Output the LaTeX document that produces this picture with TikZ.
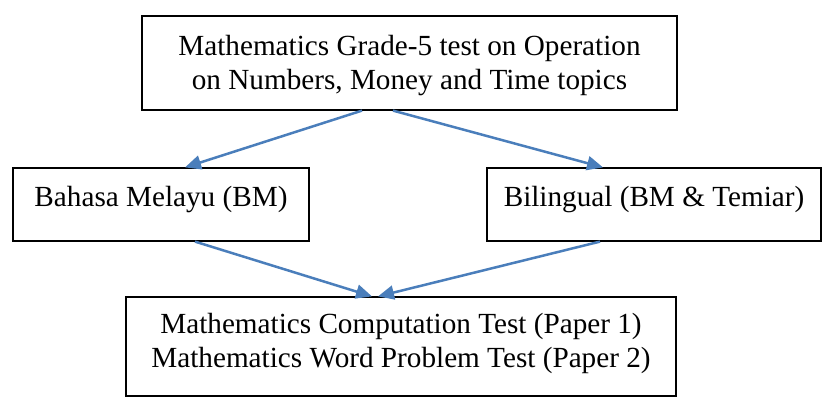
\documentclass[tikz,border=0pt]{standalone}
\usepackage{fontspec}
\setmainfont{Liberation Serif}
\usetikzlibrary{arrows.meta}
\definecolor{arrblue}{RGB}{74,126,187}
\tikzset{
  boxnode/.style={draw=black, line width=1.2pt, rectangle, inner sep=0pt, fill=none},
  txtnode/.style={align=center, inner sep=0pt, font=\fontsize{29.2}{34}\selectfont},
  arr/.style={draw=arrblue, line width=2.5pt, -{Triangle[length=16pt,width=14pt]}}
}
\begin{document}
\begin{tikzpicture}[x=1pt,y=-1pt]
\useasboundingbox (0,0) rectangle (824,399);
% boxes
\node[boxnode, minimum width=535pt, minimum height=94pt] (top) at (409.5,63) {};
\node[boxnode, minimum width=296pt, minimum height=73pt] (left) at (161,204.5) {};
\node[boxnode, minimum width=334pt, minimum height=73pt] (right) at (654,204.5) {};
\node[boxnode, minimum width=550pt, minimum height=99pt] (bottom) at (401,346.5) {};
% texts
\node[txtnode] (toptxt) at (409.5,66) {Mathematics Grade-5 test on Operation\\on Numbers, Money and Time topics};
\node[txtnode] (lefttxt) at (161,200) {Bahasa Melayu (BM)};
\node[txtnode] (righttxt) at (654,200) {Bilingual (BM \& Temiar)};
\node[txtnode] (bottomtxt) at (401,343) {Mathematics Computation Test (Paper 1)\\Mathematics Word Problem Test (Paper 2)};
% connectors
\draw[arr] ([xshift=-47.5pt]top.south) -- ([xshift=24pt]left.north);
\draw[arr] ([xshift=-16.5pt]top.south) -- ([xshift=-51pt]right.north);
\draw[arr] ([xshift=34pt]left.south) -- ([xshift=-29pt]bottom.north);
\draw[arr] ([xshift=-54pt]right.south) -- ([xshift=-23pt]bottom.north);
\end{tikzpicture}
\end{document}
